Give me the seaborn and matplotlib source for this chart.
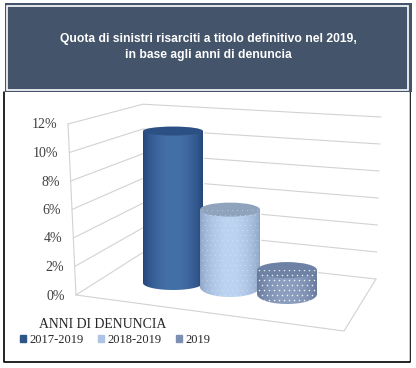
import numpy as np
import pandas as pd
import matplotlib
matplotlib.use("Agg")
import matplotlib.pyplot as plt
import seaborn as sns
from matplotlib.patches import Rectangle, Ellipse, PathPatch, Patch
from matplotlib.path import Path
from matplotlib.transforms import Affine2D

title = "Quota di sinistri risarciti a titolo definitivo nel 2019,\nin base agli anni di denuncia"
anni = ["2017-2019", "2018-2019", "2019"]
quota = [10.8, 5.5, 1.7]
tick_vals = [0, 2, 4, 6, 8, 10, 12]
tick_labels = ["0%", "2%", "4%", "6%", "8%", "10%", "12%"]
legend_title = "ANNI DI DENUNCIA"

W, H = 416, 368
sns.set_theme(style="white")
plt.rcParams["font.family"] = ["Liberation Serif", "DejaVu Serif"]

fig = plt.figure(figsize=(W / 100, H / 100), dpi=100)
ax = fig.add_axes([0, 0, 1, 1])
ax.axis("off")

# work in image pixels for the frame and the 3d walls
px = Affine2D().scale(1, -1).translate(0, H)

# the panel and the title box
ax.plot([4, 4, 410, 410], [92, 362, 362, 92], transform=px, color="black", lw=1.2, zorder=0)
ax.add_patch(Rectangle((408.5, 92), 1, 269, transform=px, fc="#c8c8c8", ec="none", zorder=0.1))
ax.add_patch(Rectangle((5, 3), 407, 89, transform=px, fc="#44546A", ec="none", zorder=0.2))
ax.add_patch(Rectangle((7, 6), 401, 84, transform=px, fc="#44546A", ec="white", lw=1.2, zorder=0.3))
ax.text(208, 47, title, transform=px, color="white", ha="center", va="center", fontsize=8.7,
        fontweight="bold", family="Liberation Sans", linespacing=1.55, zorder=5)

# walls, front-left / back-left / back-right edges
def front(v):
    return 76 - 0.667 * v, 295 - 14.25 * v

def back(v):
    return 142 + 0.08 * v, 253 - 12.4 * v

def right(v):
    return 376 + 0.4 * v, 279 - 13.5 * v

grid = "#d2d2d2"
for v, lab in zip(tick_vals, tick_labels):
    pts = [front(v), back(v), right(v)]
    ax.plot([p[0] for p in pts], [p[1] for p in pts], transform=px, color=grid, lw=0.8, zorder=1)
    fx, fy = front(v)
    ax.text(fx - 11, fy + 1, lab, transform=px, ha="right", va="center", fontsize=10, color="#404040")
ax.plot([front(0)[0], front(12)[0]], [front(0)[1], front(12)[1]], transform=px, color=grid, lw=0.8, zorder=1)
ax.plot([front(0)[0], 344, right(0)[0]], [front(0)[1], 331, right(0)[1]], transform=px, color=grid, lw=0.8, zorder=1)

# cylinders: bars through seaborn, then shaded on top
df = pd.DataFrame({"anni": anni, "quota": quota})
bar_cols = ["#2f5587", "#aec4e4", "#7d90b3"]
n_before = len(ax.patches)
sns.barplot(data=df, x="anni", y="quota", hue="anni", palette=bar_cols, width=60 / 57, legend=False, ax=ax, zorder=2)
ax.axis("off")
ax.set_xlim(-173 / 57, (W - 173) / 57)
ax.set_ylim(-(H - 283) / 14.07, 283 / 14.07)

shift = [0, 4, 11]
ry_top = [4.5, 7, 8]
ry_bot = [7, 10, 10]
edge_cols = [("#24457a", "#4470a8"), ("#8ea5c6", "#bcd3f2"), ("#66799c", "#8c9fc0")]
top_cols = ["#2c5083", "#8fa3bc", "#6e82a5"]
dots = [None, 0.35, 0.9]

for i, bar in enumerate(list(ax.patches)[n_before:]):
    bar.set_transform(ax.transData + Affine2D().translate(0, -shift[i]))
    (x0, top), (x1, bot) = ax.transData.transform([(bar.get_x(), bar.get_height()), (bar.get_x() + bar.get_width(), 0)])
    ytop, ybot = H - top + shift[i], H - bot + shift[i]
    cx, rx = (x0 + x1) / 2, (x1 - x0) / 2
    t = np.linspace(0, np.pi, 50)
    outline = [(x0, ytop)] + [(cx - rx * np.cos(a), ybot + ry_bot[i] * np.sin(a)) for a in t] + [(x1, ytop), (x0, ytop)]
    clip = PathPatch(Path(outline), transform=px, fc="none", ec="none")
    ax.add_patch(clip)
    # horizontal shading with a soft centre
    s = np.sin(np.linspace(0, np.pi, 60)) ** 0.7
    c0, c1 = np.array(matplotlib.colors.to_rgb(edge_cols[i][0])), np.array(matplotlib.colors.to_rgb(edge_cols[i][1]))
    grad = (c0[None, :] * (1 - s[:, None]) + c1[None, :] * s[:, None])[None, :, :]
    im = ax.imshow(grad, extent=(0, 1, 0, 1), aspect="auto", zorder=3 + i * 0.1,
                   transform=Affine2D().scale(x1 - x0, ybot + ry_bot[i] - ytop).translate(x0, ytop) + px)
    im.set_clip_path(clip)
    cap = Ellipse((cx, ytop), 2 * rx, 2 * ry_top[i], transform=px, fc=top_cols[i], ec="none", zorder=3.05 + i * 0.1)
    ax.add_patch(cap)
    if dots[i] is not None:
        gx, gy = np.meshgrid(np.arange(x0 + 2, x1, 5.0), np.arange(ytop, ybot + ry_bot[i], 5.0))
        gx[1::2] += 2.5
        sc = ax.scatter(gx.ravel(), gy.ravel(), s=1.2 if i == 2 else 0.8, color="white", alpha=dots[i], lw=0,
                        transform=px, zorder=3.07 + i * 0.1)
        sc.set_clip_path(Path(outline), px)

ax.set_xlim(-173 / 57, (W - 173) / 57)
ax.set_ylim(-(H - 283) / 14.07, 283 / 14.07)

# legend
ax.text(103, 325, legend_title, transform=px, ha="center", va="center", fontsize=9.9, color="#262626")
handles = [Patch(color=c) for c in bar_cols]
fig.legend(handles, anni, ncol=3, loc="center left", bbox_to_anchor=(20 / W, 1 - 340 / H), frameon=False,
           fontsize=9, handlelength=0.48, handleheight=0.48, handletextpad=0.24, columnspacing=1.2,
           labelcolor="#262626", borderpad=0, borderaxespad=0)

fig.savefig("out.png", dpi=100)
